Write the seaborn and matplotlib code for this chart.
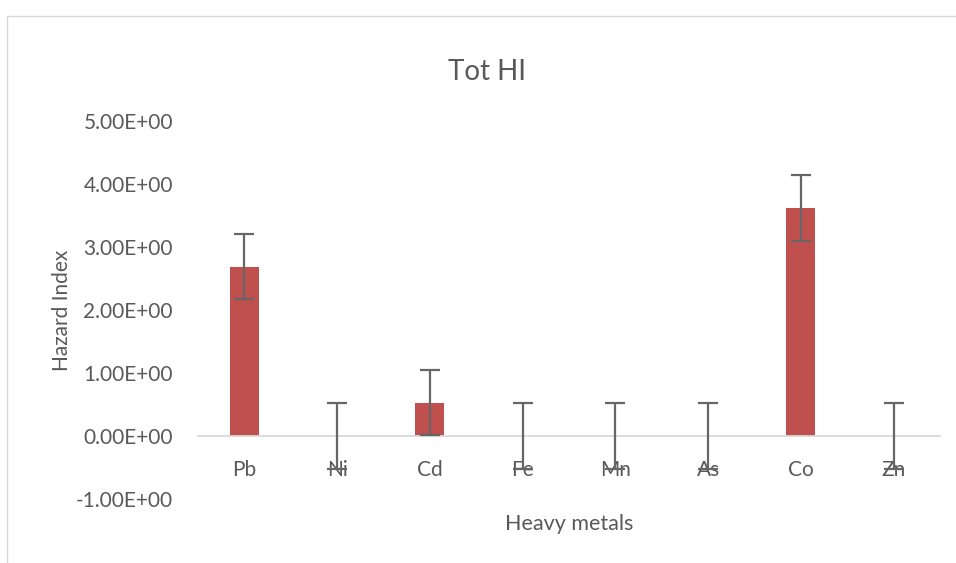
import matplotlib
matplotlib.use("Agg")
import matplotlib.pyplot as plt
import seaborn as sns
import pandas as pd
from matplotlib.ticker import FuncFormatter, MultipleLocator
from matplotlib.lines import Line2D

metals = ["Pb", "Ni", "Cd", "Fe", "Mn", "As", "Co", "Zn"]
hazard_index = [2.69, 0.0, 0.53, 0.0, 0.0, 0.0, 3.62, 0.0]
errors = [0.52, 0.52, 0.52, 0.52, 0.52, 0.52, 0.52, 0.52]

df = pd.DataFrame({"metal": metals, "hi": hazard_index, "err": errors})

sns.set_theme(style="white")
plt.rcParams["font.family"] = ["Lato", "DejaVu Sans"]
text_col = "#595959"

fig = plt.figure(figsize=(9.56, 5.63), dpi=100)
ax = fig.add_axes([198/956, 1-499/563, 742/956, 378/563])

sns.barplot(data=df, x="metal", y="hi", color="#C0504D", width=0.31,
            saturation=1, ax=ax, errorbar=None)
for p in ax.patches:
    p.set_edgecolor("none")
ax.errorbar(range(len(metals)), df["hi"], yerr=df["err"], fmt="none",
            ecolor="#666666", elinewidth=1.6, capsize=7, capthick=1.6, zorder=5)

ax.set_ylim(-1, 5)
ax.set_xlim(-0.5, len(metals) - 0.5)
ax.yaxis.set_major_locator(MultipleLocator(1))
ax.yaxis.set_major_formatter(FuncFormatter(lambda v, _: f"{v:.2E}"))

for s in ["top", "right", "left"]:
    ax.spines[s].set_visible(False)
ax.spines["bottom"].set_position(("data", 0))
ax.spines["bottom"].set_color("#D9D9D9")
ax.spines["bottom"].set_linewidth(1.3)
ax.spines["bottom"].set_zorder(1)

ax.tick_params(axis="y", length=0, pad=18, labelsize=15, labelcolor=text_col)
ax.tick_params(axis="x", length=0, pad=17, labelsize=15, labelcolor=text_col)

ax.set_xlabel("Heavy metals", fontsize=15.5, color=text_col)
ax.set_ylabel("Hazard Index", fontsize=15, color=text_col)
ax.xaxis.set_label_coords(0.5, -0.04)
ax.yaxis.set_label_coords(-0.17, 0.5)

fig.text(487/956, 1-72/563, "Tot HI", ha="center", va="center",
         fontsize=20, color=text_col)

# chart area border (Excel-like frame)
fig.add_artist(Line2D([7/956, 7/956], [0, 1-16/563], transform=fig.transFigure,
                      color="#D9D9D9", lw=1))
fig.add_artist(Line2D([7/956, 1], [1-16/563, 1-16/563], transform=fig.transFigure,
                      color="#D9D9D9", lw=1))

fig.savefig("out.png", dpi=100)
